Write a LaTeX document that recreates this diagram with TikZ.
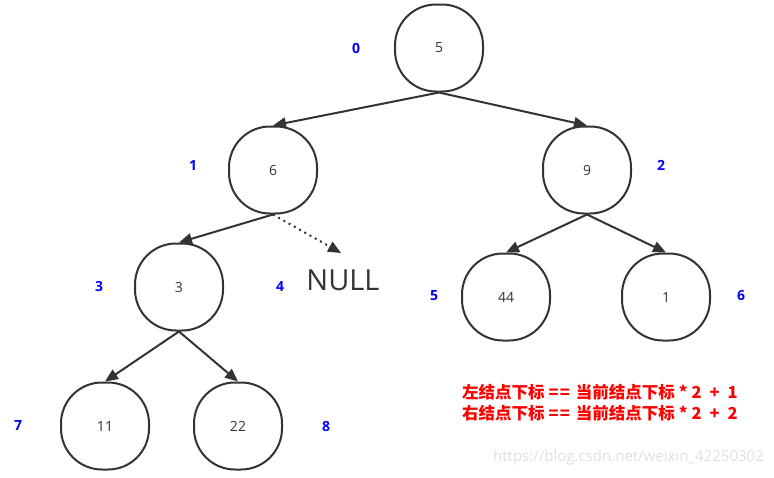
\documentclass[tikz,border=0pt]{standalone}
\usepackage{fontspec}
\setmainfont{Open Sans}
\newfontfamily\cjk{Noto Sans CJK SC}
\usetikzlibrary{arrows.meta}
\definecolor{ink}{HTML}{333333}
\tikzset{
  tnode/.style={draw=ink, line width=2pt, rounded corners=41pt, minimum width=88pt, minimum height=87pt, inner sep=0pt, text=ink, font=\fontsize{14}{16}\selectfont},
  idx/.style={text=blue, font=\fontsize{14}{16}\selectfont\bfseries},
  edge/.style={draw=ink, line width=2pt, -{Triangle[length=13pt,width=11pt]}},
  nulledge/.style={draw=ink, line width=2pt, dash pattern=on 2pt off 4pt, -{Triangle[length=13pt,width=11pt]}},
}
\begin{document}
\begin{tikzpicture}[x=1pt,y=-1pt]
\useasboundingbox (0,0) rectangle (774,477);
\node[tnode] (n5) at (439,48) {5};
\node[tnode] (n6) at (273,170) {6};
\node[tnode] (n9) at (587,170) {9};
\node[tnode] (n3) at (179,287) {3};
\node[tnode] (n44) at (506,297) {44};
\node[tnode] (n1) at (666,297) {1};
\node[tnode] (n11) at (105,426) {11};
\node[tnode] (n22) at (238,426) {22};
\node[text=ink, font=\fontsize{29}{32}\selectfont, inner sep=0pt] (null) at (343,280) {NULL};
\coordinate (nulltip) at (341,253);
\draw[edge] (n5.south) -- (n6.north);
\draw[edge] (n5.south) -- (n9.north);
\draw[edge] (n6.south) -- (n3.north);
\draw[nulledge] (n6.south) -- (nulltip);
\draw[edge] (n9.south) -- (n44.north);
\draw[edge] (n9.south) -- (n1.north);
\draw[edge] (n3.south) -- (n11.north);
\draw[edge] (n3.south) -- (n22.north);
\node[idx] (i0) at (356,48) {0};
\node[idx] (i1) at (193,165) {1};
\node[idx] (i2) at (661,165) {2};
\node[idx] (i3) at (99,286) {3};
\node[idx] (i4) at (280,286) {4};
\node[idx] (i5) at (434,296) {5};
\node[idx] (i6) at (741,296) {6};
\node[idx] (i7) at (18,426) {7};
\node[idx] (i8) at (326,426) {8};
\node[text=red, font=\cjk\bfseries\fontsize{16.5}{21}\selectfont, anchor=north west, inner sep=0pt, align=left] (rule) at (462,384) {左结点下标\hspace{4pt}=\hspace{1pt}=\hspace{6pt}当前结点下标\hspace{4pt}*\hspace{4pt}2\hspace{8pt}+\hspace{8pt}1\\右结点下标\hspace{4pt}=\hspace{1pt}=\hspace{6pt}当前结点下标\hspace{4pt}*\hspace{4pt}2\hspace{8pt}+\hspace{8pt}2};
\node[text=black!12, font=\fontsize{15}{17}\selectfont, anchor=west, inner sep=0pt] (wm) at (493,458) {https://blog.csdn.net/weixin\_42250302};
\end{tikzpicture}
\end{document}
